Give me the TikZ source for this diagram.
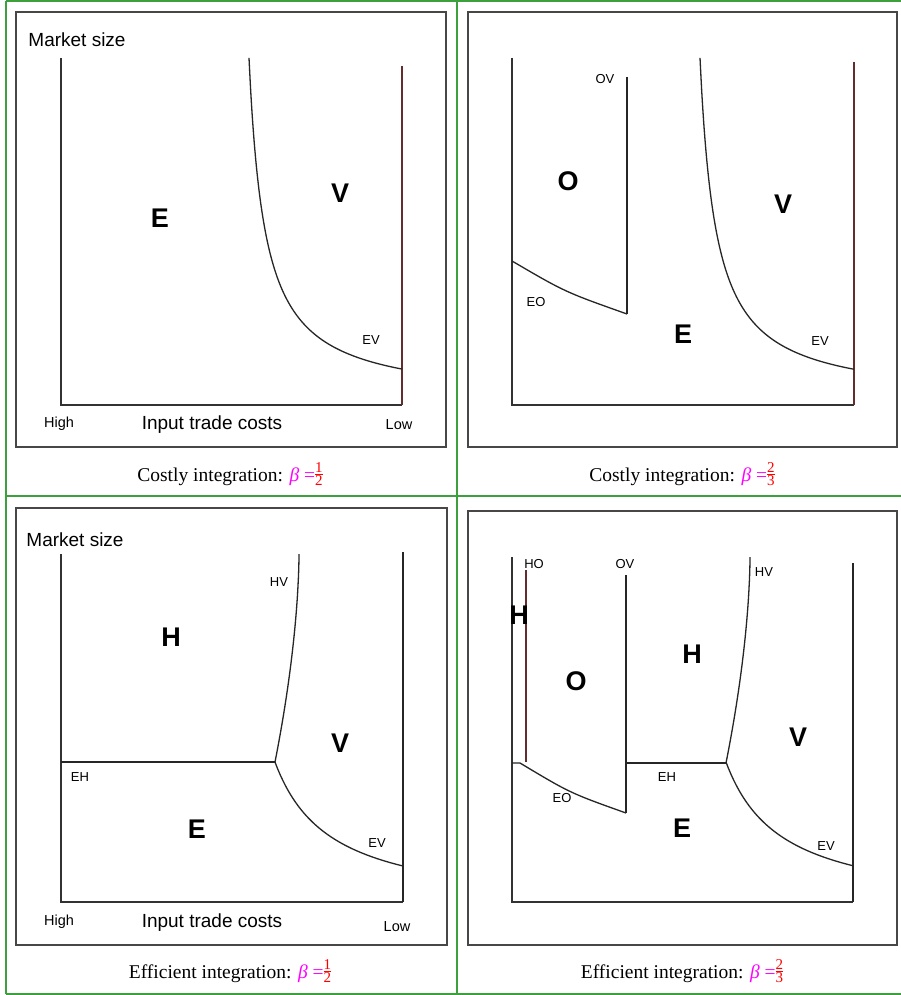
\documentclass[tikz,border=0pt]{standalone}
\usepackage{fontspec}
\setmainfont{Liberation Serif}
\newfontfamily\arialfont{Liberation Sans}
\definecolor{gridgreen}{RGB}{60,160,60}
\definecolor{axisgray}{RGB}{50,50,50}
\definecolor{boundbrown}{RGB}{100,45,45}
\definecolor{betapink}{RGB}{255,0,255}
% stacked fraction for the caption values
\newcommand{\capfrac}[2]{$\vcenter{\hbox{\fontsize{15}{15}\selectfont\setlength{\tabcolsep}{0pt}\begin{tabular}{c}#1\\[-3pt]\hline\noalign{\vskip1pt}#2\end{tabular}}}$}
\newcommand{\capbeta}[2]{{\color{betapink}\textit{β} =}{\color{red}\capfrac{#1}{#2}}}
\begin{document}
\begin{tikzpicture}[x=1pt,y=-1pt,
  grid/.style={draw=gridgreen,line width=1.1pt},
  panelbox/.style={draw=axisgray!90,line width=1.2pt},
  axis/.style={draw=axisgray,line width=1.5pt},
  bound/.style={draw=black!85,line width=1.3pt},
  brownline/.style={draw=boundbrown,line width=1.3pt},
  region/.style={font=\arialfont\bfseries\fontsize{27}{27}\selectfont,inner sep=0pt},
  tag/.style={font=\arialfont\fontsize{13}{13}\selectfont,inner sep=0pt},
  axtitle/.style={font=\arialfont\fontsize{19}{19}\selectfont,inner sep=0pt},
  axend/.style={font=\arialfont\fontsize{14.5}{14.5}\selectfont,inner sep=0pt},
  caption/.style={font=\fontsize{19.5}{19.5}\selectfont,inner sep=0pt}]
\useasboundingbox (0,0) rectangle (901,995);
\fill[white] (0,0) rectangle (901,995);

% table grid
\draw[grid] (6,1) -- (901,1);
\draw[grid] (6,496) -- (901,496);
\draw[grid] (6,994) -- (901,994);
\draw[grid] (6,1) -- (6,994);
\draw[grid] (457,1) -- (457,994);

% panel frames
\draw[panelbox] (16,12) rectangle (446,447);
\draw[panelbox] (468,12) rectangle (897,447);
\draw[panelbox] (16,508) rectangle (447,945);
\draw[panelbox] (468,511) rectangle (897,945);

% ---- costly integration, beta = 1/2
\draw[axis] (61,58) -- (61,405) -- (402,405);
\draw[brownline] (402,66) -- (402,405);
\draw[bound] plot[domain=249:402,samples=90,smooth] (\x,{401.6-5499/(\x-233)});
\node[axtitle] (ms1) at (77,40) {Market size};
\node[region] (e1) at (160,218) {E};
\node[region] (v1) at (340,193) {V};
\node[tag] (ev1) at (371,340) {EV};
\node[axend] (hi1) at (59,424) {High};
\node[axtitle] (itc1) at (212,425) {Input trade costs};
\node[axend] (lo1) at (399,425) {Low};
\node[caption] (cap1) at (230,476) {Costly integration: \capbeta{1}{2}};

% ---- costly integration, beta = 2/3
\draw[axis] (512,58) -- (512,405) -- (854,405);
\draw[brownline] (854,62) -- (854,405);
\draw[bound] (627,77) -- (627,314);
\draw[bound] (512,261) .. controls (565,292) .. (627,314);
\draw[bound] plot[domain=700:854,samples=90,smooth] (\x,{401.6-5499/(\x-684)});
\node[tag] (ov2) at (605,79) {OV};
\node[region] (o2) at (568,181) {O};
\node[tag] (eo2) at (536,302) {EO};
\node[region] (e2) at (683,334) {E};
\node[region] (v2) at (783,204) {V};
\node[tag] (ev2) at (820,341) {EV};
\node[caption] (cap2) at (682,476) {Costly integration: \capbeta{2}{3}};

% ---- efficient integration, beta = 1/2
\draw[axis] (61,554) -- (61,902) -- (403,902);
\draw[bound] (403,552) -- (403,902);
\draw[bound] (61,762) -- (275,762);
\draw[bound] plot[domain=554:762,samples=60,smooth] ({299-24*((\x-554)/208)^1.7},\x);
\draw[bound] plot[domain=275:403,samples=80,smooth] (\x,{911.1-8275/(\x-219.5)});
\node[axtitle] (ms3) at (75,540) {Market size};
\node[tag] (hv3) at (279,582) {HV};
\node[region] (h3) at (171,637) {H};
\node[region] (v3) at (340,743) {V};
\node[tag] (eh3) at (80,777) {EH};
\node[region] (e3) at (197,829) {E};
\node[tag] (ev3) at (377,843) {EV};
\node[axend] (hi3) at (59,922) {High};
\node[axtitle] (itc3) at (212,923) {Input trade costs};
\node[axend] (lo3) at (397,927) {Low};
\node[caption] (cap3) at (230,973) {Efficient integration: \capbeta{1}{2}};

% ---- efficient integration, beta = 2/3
\draw[axis] (512,557) -- (512,902) -- (853,902);
\draw[bound] (853,563) -- (853,902);
\draw[brownline] (526,570) -- (526,762);
\draw[bound] (626,575) -- (626,813);
\draw[bound] (626,763) -- (726,763);
\draw[bound] (512,763) -- (520,763) .. controls (570,793) .. (626,813);
\draw[bound] plot[domain=557:763,samples=60,smooth] ({750-24*((\x-557)/206)^1.7},\x);
\draw[bound] plot[domain=726:853,samples=80,smooth] (\x,{911.1-8275/(\x-670.5)});
\node[tag] (ho4) at (534,564) {HO};
\node[tag] (ov4) at (625,564) {OV};
\node[tag] (hv4) at (764,572) {HV};
\node[region] (h4a) at (519,615) {H};
\node[region] (o4) at (576,681) {O};
\node[region] (h4b) at (692,654) {H};
\node[region] (v4) at (798,737) {V};
\node[tag] (eh4) at (667,777) {EH};
\node[tag] (eo4) at (562,798) {EO};
\node[region] (e4) at (682,828) {E};
\node[tag] (ev4) at (826,846) {EV};
\node[caption] (cap4) at (682,973) {Efficient integration: \capbeta{2}{3}};
\end{tikzpicture}
\end{document}
